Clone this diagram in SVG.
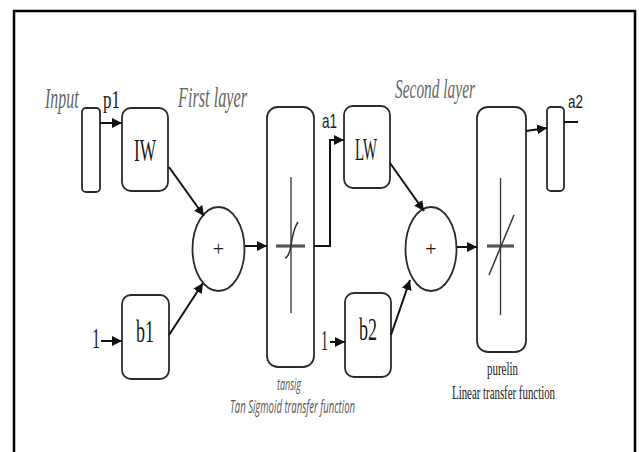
<svg xmlns="http://www.w3.org/2000/svg" width="639" height="452" viewBox="0 0 639 452">
<style>
.box{fill:#fff;stroke:#2a2a2a;stroke-width:1.8}
.con{fill:none;stroke:#111;stroke-width:2}
.ser{font-family:"Liberation Serif","DejaVu Serif",serif;fill:#1a1a1a}
.it{font-family:"Liberation Serif","DejaVu Serif",serif;font-style:italic;fill:#666}
.sans{font-family:"Liberation Sans","DejaVu Sans",sans-serif;fill:#1a1a1a}
.sit{font-family:"Open Sans","Liberation Sans",sans-serif;font-style:italic;fill:#555}
.fn{stroke:#333;fill:none}
</style>
<defs>
<marker id="ah" markerUnits="userSpaceOnUse" markerWidth="10" markerHeight="10" viewBox="0 0 10 10" refX="10" refY="5" orient="auto">
<path d="M0,0 L10,5 L0,10 Z" fill="#111"/>
</marker>
</defs>
<rect x="14" y="11" width="621" height="460" fill="none" stroke="#000" stroke-width="2.5"/>
<g id="labels">
<text class="it" transform="translate(45,108) scale(0.53,1)" font-size="30">Input</text>
<text class="ser" transform="translate(103,108) scale(0.68,1)" font-size="25">p1</text>
<text class="it" x="178" y="107" font-size="30" textLength="69" lengthAdjust="spacingAndGlyphs">First layer</text>
<text class="it" x="395" y="98" font-size="28" textLength="80" lengthAdjust="spacingAndGlyphs">Second layer</text>
<text class="sans" x="322" y="128" font-size="21" textLength="15" lengthAdjust="spacingAndGlyphs">a1</text>
<text class="sans" x="568" y="108" font-size="19" textLength="15" lengthAdjust="spacingAndGlyphs">a2</text>
<text class="ser" x="92" y="348" font-size="30" textLength="8" lengthAdjust="spacingAndGlyphs">1</text>
<text class="ser" x="321" y="350" font-size="30" textLength="7" lengthAdjust="spacingAndGlyphs">1</text>
</g>
<g id="input">
<rect class="box" x="82" y="108" width="18" height="84" rx="4"/>
</g>
<g id="IW">
<rect class="box" x="122" y="108" width="46" height="83" rx="9"/>
<text class="ser" x="134" y="161" font-size="31" textLength="22" lengthAdjust="spacingAndGlyphs">IW</text>
</g>
<g id="b1">
<rect class="box" x="122" y="295" width="47" height="84" rx="9"/>
<text class="ser" x="136" y="342" font-size="31" textLength="18" lengthAdjust="spacingAndGlyphs">b1</text>
</g>
<g id="sum1">
<ellipse class="box" cx="218.5" cy="249" rx="26" ry="42"/>
<text class="ser" x="218.5" y="256" font-size="20" text-anchor="middle">+</text>
</g>
<g id="tansig">
<rect class="box" x="267" y="107" width="47" height="260" rx="11"/>
<line class="fn" x1="291" y1="177" x2="291" y2="313" stroke-width="1.3"/>
<line x1="276" y1="246" x2="305" y2="246" stroke="#555" stroke-width="3.2"/>
<path class="fn" stroke-width="1.5" d="M285,258 C289,257 290,251 291,246 C292,238 294,228 298,222"/>
<text class="sit" x="277" y="390" font-size="16" textLength="24" lengthAdjust="spacingAndGlyphs">tansig</text>
<text class="sit" x="230" y="413" font-size="18" textLength="125" lengthAdjust="spacingAndGlyphs">Tan Sigmoid transfer function</text>
</g>
<g id="LW">
<rect class="box" x="344" y="106" width="46" height="82" rx="9"/>
<text class="ser" x="355" y="160" font-size="31" textLength="22" lengthAdjust="spacingAndGlyphs">LW</text>
</g>
<g id="b2">
<rect class="box" x="345" y="293" width="46" height="84" rx="9"/>
<text class="ser" x="359" y="340" font-size="31" textLength="18" lengthAdjust="spacingAndGlyphs">b2</text>
</g>
<g id="sum2">
<ellipse class="box" cx="431" cy="249" rx="25.5" ry="42"/>
<text class="ser" x="431" y="256" font-size="20" text-anchor="middle">+</text>
</g>
<g id="purelin">
<rect class="box" x="477" y="107" width="49" height="245" rx="11"/>
<line class="fn" x1="500.5" y1="178" x2="500.5" y2="315" stroke-width="1.3"/>
<line x1="487" y1="246" x2="514" y2="246" stroke="#555" stroke-width="3.2"/>
<line class="fn" x1="489" y1="275" x2="514" y2="215" stroke-width="1.5"/>
<text class="ser" x="487" y="375" font-size="18" textLength="31" lengthAdjust="spacingAndGlyphs">purelin</text>
<text class="ser" x="452" y="399" font-size="18" textLength="103" lengthAdjust="spacingAndGlyphs">Linear transfer function</text>
</g>
<g id="output">
<rect class="box" x="547" y="107" width="17" height="84" rx="4"/>
</g>
<g id="connectors">
<path class="con" d="M100,123 L122,123" marker-end="url(#ah)"/>
<path class="con" d="M169,167 L204,216" marker-end="url(#ah)"/>
<path class="con" d="M101,341 L122,341" marker-end="url(#ah)"/>
<path class="con" d="M169,335 L203,283" marker-end="url(#ah)"/>
<path class="con" d="M245,246 L267,246" marker-end="url(#ah)"/>
<path class="con" d="M314,246 H330 V140 H344" marker-end="url(#ah)"/>
<path class="con" d="M390,163 L424,211" marker-end="url(#ah)"/>
<path class="con" d="M330,342 L345,342" marker-end="url(#ah)"/>
<path class="con" d="M391,335 L410,280" marker-end="url(#ah)"/>
<path class="con" d="M457,247 L477,247" marker-end="url(#ah)"/>
<path class="con" d="M526,131 L547,128" marker-end="url(#ah)"/>
<path class="con" d="M564,122 L578,122"/>
</g>
</svg>
